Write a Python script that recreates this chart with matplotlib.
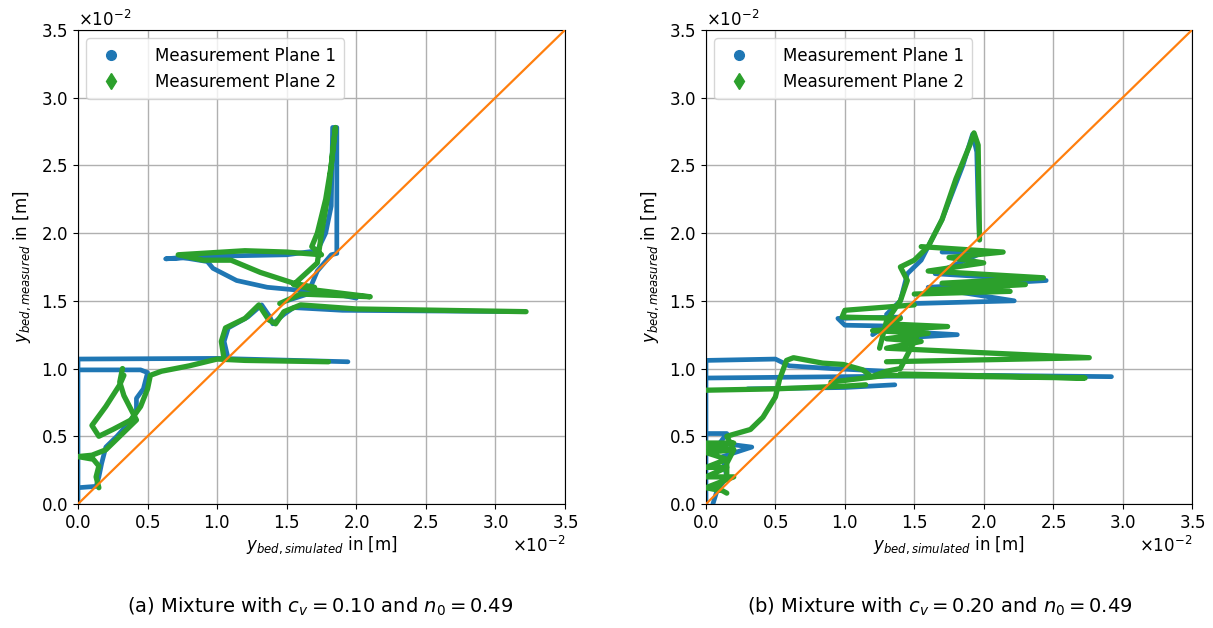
import numpy as np
import matplotlib
matplotlib.use("Agg")
import matplotlib.pyplot as plt
from matplotlib.lines import Line2D

# traces, in units of 1e-2 m; each entry is one polyline
a_plane1 = [
    [(0, 0), (0, 1.07), (1.0, 1.075), (1.94, 1.05)],
    [(0, 0.99), (0.45, 0.99), (0.5, 0.97), (0.47, 0.85), (0.42, 0.78), (0.42, 0.68),
     (0.35, 0.58), (0.28, 0.5), (0.2, 0.42), (0.17, 0.3), (0.15, 0.2), (0.13, 0.13), (0, 0.12)],
    [(1.08, 1.07), (1.05, 1.2), (1.08, 1.3), (1.22, 1.38), (1.32, 1.47), (1.38, 1.38),
     (1.4, 1.33), (1.48, 1.4), (1.55, 1.45), (1.9, 1.43), (3.21, 1.42)],
    [(1.5, 1.5), (1.65, 1.55), (1.72, 1.72), (1.82, 1.84), (1.86, 1.85), (1.86, 2.78),
     (1.83, 2.78), (1.82, 2.2), (1.78, 2.0), (1.72, 1.87), (1.5, 1.84), (1.0, 1.83),
     (0.63, 1.81), (0.75, 1.82), (0.93, 1.79), (0.97, 1.74), (1.14, 1.65), (1.36, 1.6),
     (1.57, 1.58), (1.9, 1.54), (2.0, 1.52)],
]
a_plane2 = [
    [(0.15, 0.12), (0.13, 0.2), (0.15, 0.28), (0.11, 0.33), (0, 0.35), (0.1, 0.36),
     (0.2, 0.4), (0.3, 0.5), (0.42, 0.62), (0.38, 0.7), (0.33, 0.8), (0.3, 0.9), (0.32, 1.0)],
    [(0.33, 0.95), (0.3, 0.88), (0.25, 0.8), (0.2, 0.72), (0.15, 0.65), (0.1, 0.58),
     (0.15, 0.5), (0.25, 0.55), (0.38, 0.62), (0.45, 0.72), (0.5, 0.85), (0.52, 0.95),
     (0.6, 0.98), (0.8, 1.02), (1.0, 1.07), (1.2, 1.06), (1.8, 1.05)],
    [(1.05, 1.07), (1.03, 1.2), (1.06, 1.3), (1.2, 1.37), (1.3, 1.47), (1.37, 1.36),
     (1.42, 1.33), (1.48, 1.42), (1.6, 1.47), (2.0, 1.44), (3.22, 1.42)],
    [(1.45, 1.48), (1.6, 1.55), (2.1, 1.53), (1.7, 1.58), (1.55, 1.62), (1.72, 1.78),
     (1.75, 2.0), (1.8, 2.3), (1.83, 2.6), (1.85, 2.78), (1.82, 2.5), (1.78, 2.25),
     (1.72, 2.0), (1.68, 1.9), (1.75, 1.84), (1.5, 1.86), (1.2, 1.87), (0.72, 1.84),
     (0.9, 1.8), (1.1, 1.8), (1.31, 1.71), (1.55, 1.63), (1.7, 1.6)],
]
b_plane1 = [
    [(0, 0), (0, 1.06), (0.5, 1.07), (0.6, 1.02), (0.9, 1.0), (1.3, 0.98)],
    [(0, 0.93), (1.0, 0.94), (2.0, 0.95), (2.92, 0.94)],
    [(0.3, 0.85), (1.0, 0.86), (1.36, 0.88)],
    [(0, 0.52), (0.15, 0.52), (0.1, 0.45), (0.33, 0.42), (0.12, 0.35), (0.15, 0.2),
     (0.08, 0.1), (0.05, 0.0)],
    [(1.2, 1.25), (1.35, 1.35), (1.3, 1.4), (1.4, 1.5), (1.45, 1.7), (1.55, 1.8),
     (1.7, 2.1), (1.85, 2.5), (1.92, 2.73), (1.95, 2.6), (1.96, 2.2), (1.97, 1.95)],
    [(1.7, 1.86), (2.0, 1.86), (1.65, 1.7), (2.45, 1.65), (1.6, 1.6), (2.22, 1.5),
     (1.5, 1.48)],
    [(1.4, 1.38), (0.95, 1.37), (1.0, 1.32), (1.5, 1.31), (1.3, 1.28), (1.81, 1.25),
     (1.3, 1.22)],
]
b_plane2 = [
    [(0, 0.84), (0.5, 0.85), (1.0, 0.87), (1.15, 0.88)],
    [(0.9, 0.9), (1.3, 0.95), (2.73, 0.93), (1.4, 0.96)],
    [(0.15, 0.08), (0.08, 0.12), (0.15, 0.2), (0.15, 0.3), (0.2, 0.4), (0.15, 0.5),
     (0.32, 0.55), (0.41, 0.64), (0.5, 0.79), (0.53, 0.92), (0.58, 1.06), (0.63, 1.08),
     (0.84, 1.04), (0.99, 1.03), (1.13, 0.99), (1.19, 0.94), (1.3, 0.98), (1.4, 1.0),
     (1.45, 1.1), (1.55, 1.3)],
    [(0, 0.45), (0.2, 0.45), (0, 0.42), (0.2, 0.4), (0, 0.38), (0.15, 0.33),
     (0, 0.27), (0.15, 0.27), (0, 0.2), (0.2, 0.2), (0, 0.12), (0.1, 0.1)],
    [(1.55, 1.9), (2.14, 1.86), (1.75, 1.82), (2.0, 1.78), (1.6, 1.72), (2.43, 1.67),
     (1.7, 1.63), (2.3, 1.62), (1.6, 1.58), (2.19, 1.57), (1.5, 1.55)],
    [(1.5, 1.47), (1.0, 1.43), (0.98, 1.38), (1.4, 1.37), (1.3, 1.33), (1.74, 1.31),
     (1.2, 1.28), (1.6, 1.26), (1.3, 1.22), (1.55, 1.2), (1.3, 1.15), (2.76, 1.08),
     (1.3, 1.05)],
    [(1.25, 1.15), (1.3, 1.35), (1.4, 1.5), (1.45, 1.65), (1.4, 1.75), (1.5, 1.8),
     (1.6, 1.9), (1.7, 2.1), (1.8, 2.4), (1.9, 2.65), (1.93, 2.74), (1.96, 2.65),
     (1.97, 1.95)],
]

captions = [r"(a) Mixture with $c_v = 0.10$ and $n_0 = 0.49$",
            r"(b) Mixture with $c_v = 0.20$ and $n_0 = 0.49$"]
legend_labels = ["Measurement Plane 1", "Measurement Plane 2"]

blue, green, orange = "#1f77b4", "#2ca02c", "#ff7f0e"

fig = plt.figure(figsize=(12.13, 6.28), dpi=100)
axes = [fig.add_axes([0.0643, 0.1975, 0.4015, 0.7548]),
        fig.add_axes([0.582, 0.1975, 0.4007, 0.7548])]
panels = [(a_plane1, a_plane2), (b_plane1, b_plane2)]
cap_x = [0.264, 0.775]

for ax, (p1, p2), cap, cx in zip(axes, panels, captions, cap_x):
    for seg in p1:
        s = np.array(seg) * 1e-2
        ax.plot(s[:, 0], s[:, 1], color=blue, lw=3.4, solid_capstyle="round",
                solid_joinstyle="round", zorder=2)
    for seg in p2:
        s = np.array(seg) * 1e-2
        ax.plot(s[:, 0], s[:, 1], color=green, lw=3.8, solid_capstyle="round",
                solid_joinstyle="round", zorder=3)
    ax.plot([0, 0.035], [0, 0.035], color=orange, lw=1.6, zorder=4)

    ax.set_xlim(0, 0.035)
    ax.set_ylim(0, 0.035)
    ax.set_xticks(np.arange(0, 0.0351, 0.005))
    ax.set_yticks(np.arange(0, 0.0351, 0.005))
    ax.ticklabel_format(style="sci", axis="both", scilimits=(-2, -2), useMathText=True)
    ax.tick_params(labelsize=12)
    ax.xaxis.get_offset_text().set_fontsize(12)
    ax.yaxis.get_offset_text().set_fontsize(12)
    ax.grid(True, color="#b0b0b0", lw=1.0)
    ax.set_axisbelow(True)
    ax.set_xlabel(r"$y_{bed,simulated}$ in [m]", fontsize=12, labelpad=2)
    ax.set_ylabel(r"$y_{bed,measured}$ in [m]", fontsize=12, labelpad=6)

    handles = [Line2D([], [], ls="none", marker="o", color=blue, ms=7),
               Line2D([], [], ls="none", marker="d", color=green, ms=8)]
    ax.legend(handles, legend_labels, loc="upper left", fontsize=12,
              handletextpad=1.6, borderpad=0.5)

    fig.text(cx, 0.033, cap, ha="center", va="center", fontsize=14)

fig.savefig("out.png", dpi=100)
